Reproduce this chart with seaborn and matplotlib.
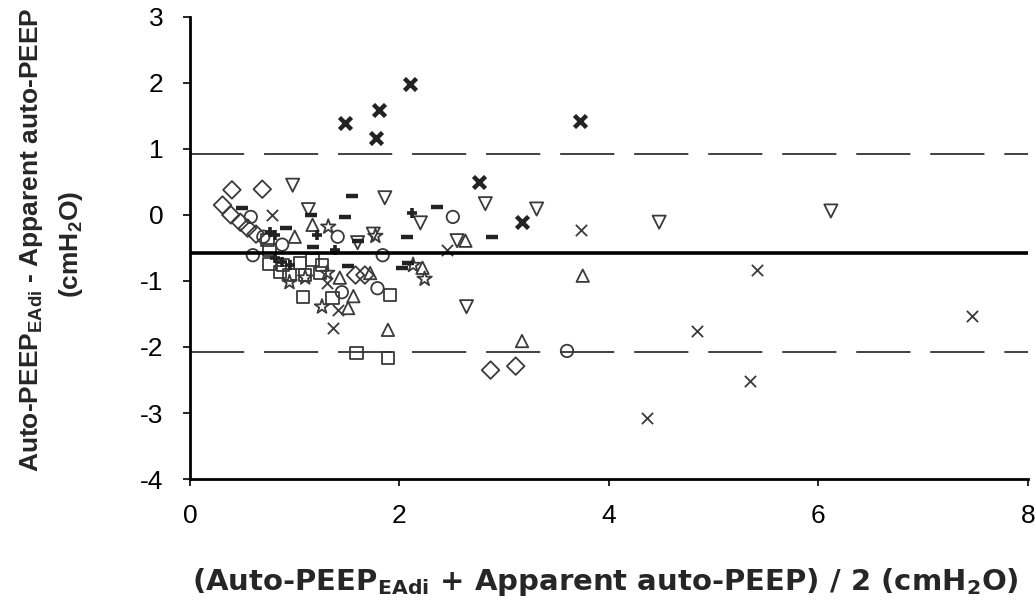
import numpy as np
import pandas as pd
import matplotlib
matplotlib.use("Agg")
import matplotlib.pyplot as plt
import seaborn as sns

# ---------------- data ----------------
diamond_x = [0.40, 0.69, 0.31, 0.39, 0.48, 0.55, 0.63, 1.58, 1.67, 2.87, 3.11]
diamond_y = [0.38, 0.39, 0.15, 0.00, -0.11, -0.20, -0.29, -0.91, -0.91, -2.35, -2.29]

square_x = [0.74, 0.76, 0.86, 0.89, 1.05, 1.17, 1.26, 0.95, 1.10, 1.24, 1.08, 1.36, 1.91, 1.59, 1.89, 0.76]
square_y = [-0.38, -0.74, -0.86, -0.76, -0.73, -0.68, -0.76, -0.91, -0.91, -0.88, -1.24, -1.26, -1.21, -2.09, -2.17, -0.53]

tri_up_x = [1.17, 1.00, 2.63, 2.22, 1.43, 1.72, 1.56, 1.51, 1.89, 3.17, 3.75]
tri_up_y = [-0.15, -0.33, -0.39, -0.80, -0.95, -0.88, -1.23, -1.41, -1.74, -1.91, -0.92]

tri_down_x = [0.98, 1.13, 1.86, 2.20, 2.82, 3.31, 4.48, 6.12, 2.64, 2.55, 1.60, 1.75]
tri_down_y = [0.45, 0.08, 0.26, -0.12, 0.17, 0.09, -0.11, 0.06, -1.39, -0.39, -0.42, -0.29]

circle_x = [0.58, 0.60, 0.88, 1.41, 1.84, 2.51, 1.79, 1.45, 3.60, 0.70]
circle_y = [-0.03, -0.61, -0.45, -0.33, -0.61, -0.03, -1.11, -1.17, -2.06, -0.33]

xthin_x = [3.73, 5.41, 4.84, 5.35, 4.36, 7.47, 2.45, 1.37, 1.41, 1.31, 0.78]
xthin_y = [-0.23, -0.83, -1.76, -2.52, -3.08, -1.53, -0.53, -1.71, -1.44, -1.03, 0.00]

xbold_x = [1.48, 1.80, 1.78, 2.10, 3.72, 2.76, 3.17]
xbold_y = [1.39, 1.59, 1.17, 1.98, 1.42, 0.50, -0.11]

dash_x = [0.50, 1.55, 1.16, 1.48, 0.92, 2.36, 2.07, 2.88, 1.17, 1.51, 2.08, 2.02, 1.60]
dash_y = [0.11, 0.29, 0.00, -0.03, -0.20, 0.12, -0.33, -0.33, -0.48, -0.77, -0.73, -0.80, -0.39]

star_x = [1.32, 1.77, 1.10, 1.31, 1.26, 2.13, 2.24, 0.95]
star_y = [-0.18, -0.32, -0.95, -0.88, -1.39, -0.76, -0.97, -1.02]

plus_x = [0.76, 0.81, 1.21, 1.38, 2.12, 0.88, 0.95, 0.81]
plus_y = [-0.26, -0.30, -0.30, -0.53, 0.03, -0.71, -0.76, -0.65]

mean_diff = -0.58
upper_loa = 0.92
lower_loa = -2.08

x_ticks = [0, 2, 4, 6, 8]
y_ticks = [-4, -3, -2, -1, 0, 1, 2, 3]

# ---------------- style ----------------
sns.set_style("white")
plt.rcParams["font.family"] = ["Liberation Sans", "DejaVu Sans"]
plt.rcParams["mathtext.default"] = "regular"

EC = "#3a3a3a"

fig = plt.figure(figsize=(10.35, 6.03), dpi=100)
ax = fig.add_axes([0.1836, 0.2056, 0.8094, 0.7664])

open_kw = dict(color=EC, facecolor="none", edgecolor=EC, linewidth=1.3)

sns.scatterplot(x=diamond_x, y=diamond_y, marker="D", s=80, ax=ax, **open_kw)
sns.scatterplot(x=square_x, y=square_y, marker="s", s=80, ax=ax, **open_kw)
sns.scatterplot(x=tri_up_x, y=tri_up_y, marker="^", s=80, ax=ax, **open_kw)
sns.scatterplot(x=tri_down_x, y=tri_down_y, marker="v", s=90, ax=ax, **open_kw)
sns.scatterplot(x=circle_x, y=circle_y, marker="o", s=80, ax=ax, **open_kw)
sns.scatterplot(x=star_x, y=star_y, marker="*", s=120, ax=ax, **open_kw)
sns.scatterplot(x=xthin_x, y=xthin_y, marker="x", s=65, color=EC, linewidth=1.3, ax=ax)
sns.scatterplot(x=xbold_x, y=xbold_y, marker="x", s=75, color="#222222", linewidth=3.2, ax=ax)
sns.scatterplot(x=dash_x, y=dash_y, marker="_", s=85, color="#222222", linewidth=3.2, ax=ax)
sns.scatterplot(x=plus_x, y=plus_y, marker="+", s=45, color="#222222", linewidth=2.6, ax=ax)

ax.axhline(mean_diff, color="black", lw=2.6, zorder=1)
ax.axhline(upper_loa, color="#333333", lw=1.3, dashes=(30, 11), zorder=1)
ax.axhline(lower_loa, color="#333333", lw=1.3, dashes=(30, 11), zorder=1)

ax.set_xlim(0, 8)
ax.set_ylim(-4, 3)
ax.set_xticks(x_ticks)
ax.set_yticks(y_ticks)
ax.set_xticklabels([str(v) for v in x_ticks])
ax.set_yticklabels([str(v) for v in y_ticks])
ax.tick_params(axis="both", direction="out", length=5, width=1.2, colors="black",
               labelsize=19, left=True, bottom=True)
ax.tick_params(axis="x", pad=13)
ax.tick_params(axis="y", pad=14)

sns.despine(ax=ax)
for side in ["left", "bottom"]:
    ax.spines[side].set_color("black")
    ax.spines[side].set_linewidth(2.0)

ax.set_xlabel("")
ax.set_ylabel("")

fig.text(0.585, 0.022, r"(Auto-PEEP$_{EAdi}$ + Apparent auto-PEEP) / 2 (cmH$_2$O)",
         ha="center", va="baseline", fontsize=21, fontweight="bold",
         family=["DejaVu Sans"])
fig.text(0.030, 0.602, r"Auto-PEEP$_{EAdi}$ - Apparent auto-PEEP",
         ha="center", va="center", rotation=90, fontsize=19, fontweight="bold")
fig.text(0.069, 0.594, r"(cmH$_2$O)",
         ha="center", va="center", rotation=90, fontsize=19, fontweight="bold")

fig.savefig("out.png", dpi=100)
